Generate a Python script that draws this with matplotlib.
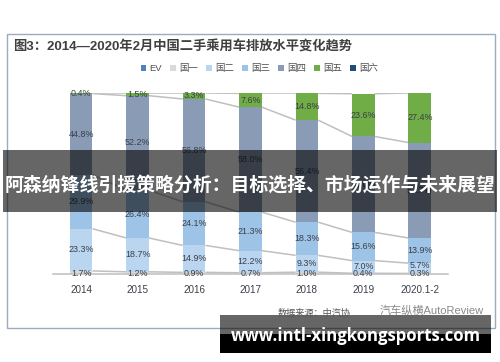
import matplotlib
matplotlib.use("Agg")
import matplotlib.pyplot as plt
import numpy as np
from matplotlib.patches import Patch, Rectangle

plt.rcParams["font.family"] = ["Liberation Sans", "Noto Sans CJK SC", "DejaVu Sans"]

years = ["2014", "2015", "2016", "2017", "2018", "2019", "2020.1-2"]
guo1 = [1.7, 1.2, 0.9, 0.7, 1.0, 0.4, 0.3]
guo2 = [23.3, 18.7, 14.9, 12.2, 9.3, 7.0, 5.7]
guo3 = [29.9, 26.4, 24.1, 21.3, 18.3, 15.6, 13.9]
guo4 = [44.8, 52.2, 56.8, 58.0, 56.4, 53.0, 52.7]
guo5 = [0.4, 1.5, 3.3, 7.6, 14.8, 23.6, 27.4]

stack = [guo1, guo2, guo3, guo4, guo5]
stack_colors = ["#d9d9d9", "#b9d5f0", "#9dc3e6", "#8a9bb5", "#70ad47"]
legend_names = ["EV", "国一", "国二", "国三", "国四", "国五", "国六"]
legend_colors = ["#4f81bd", "#d9d9d9", "#b9d5f0", "#9dc3e6", "#8a9bb5", "#70ad47", "#1f4e79"]

W, H = 500, 362
TEXT = "#3a3f48"
LINE = "#bfbfbf"
BAR_W = 0.4

fig = plt.figure(figsize=(W / 100, H / 100), dpi=100)
fig.patch.set_facecolor("white")

# plot area, placed in reference pixels
left, right, top, bottom = 53, 448, 93, 274
ax = fig.add_axes([left / W, 1 - bottom / H, (right - left) / W, (bottom - top) / H])
x = np.arange(len(years))
base = np.zeros(len(years))
for values, color in zip(stack, stack_colors):
    values = np.array(values)
    ax.bar(x, values, BAR_W, bottom=base, color=color, linewidth=0, zorder=2)
    tops = base + values
    # series lines between neighbouring bars
    for i in range(len(years) - 1):
        ax.plot([x[i] + BAR_W / 2, x[i + 1] - BAR_W / 2], [tops[i], tops[i + 1]],
                color=LINE, linewidth=1.1, zorder=1, solid_capstyle="butt")
    for i, v in enumerate(values):
        y = 0 if color == stack_colors[0] else base[i] + v / 2
        if color == stack_colors[1] and i == 6:
            y += 1.8  # this label sits a little above its segment in the original
        ax.text(x[i], y, f"{v:.1f}%", ha="center", va="center", fontsize=6.4, color=TEXT, zorder=3)
    base = tops

ax.set_xlim(-0.5, len(years) - 0.5)
ax.set_ylim(0, 100)
ax.set_xticks(x, years)
ax.tick_params(axis="x", length=0, labelsize=7.1, labelcolor=TEXT, pad=8)
ax.set_yticks([])
for side in ["top", "left", "right"]:
    ax.spines[side].set_visible(False)
ax.spines["bottom"].set_color(LINE)
ax.spines["bottom"].set_linewidth(1.1)
ax.patch.set_alpha(0)

# frame, heading and overlays in pixel coordinates
over = fig.add_axes([0, 0, 1, 1], zorder=5)
over.set_xlim(0, W)
over.set_ylim(H, 0)
over.axis("off")
over.add_patch(Rectangle((6.5, 34), 488, 293.5, fill=False, edgecolor="#9badbd", linewidth=1.0))
over.text(13, 47, "图3：2014—2020年2月中国二手乘用车排放水平变化趋势", fontsize=9.55, fontweight="bold",
          color="#404040", ha="left", va="center")

handles = [Patch(facecolor=c, edgecolor="none") for c in legend_colors]
fig.legend(handles, legend_names, loc="center", bbox_to_anchor=(259.5 / W, 1 - 68.5 / H), ncol=7, frameon=False,
           fontsize=6.8, handlelength=0.6, handleheight=0.6, handletextpad=0.35, columnspacing=0.85,
           labelcolor="#505050")

over.text(278, 313, "数据来源：中汽协", fontsize=6.6, color="#555555", ha="left", va="center")
over.text(484, 311, "汽车纵横AutoReview", fontsize=8, color="#8a8a8a", ha="right", va="center")

over.add_patch(Rectangle((3, 150), 494, 62, facecolor="black", alpha=0.6, linewidth=0))
over.text(250, 185.5, "阿森纳锋线引援策略分析：目标选择、市场运作与未来展望", fontsize=13.6, fontweight="bold",
          color="white", ha="center", va="center", family=["Noto Sans CJK SC", "DejaVu Sans"])

over.add_patch(Rectangle((220, 315), 271, 19, facecolor="black", alpha=0.6, linewidth=0))
over.add_patch(Rectangle((220, 334), 271, 19, facecolor="black", linewidth=0))
over.text(356, 336, "www.intl-xingkongsports.com", fontsize=12.1, fontweight="bold",
          color="white", ha="center", va="center", family=["Open Sans", "DejaVu Sans"])

fig.savefig("out.png", dpi=100)
plt.close(fig)
